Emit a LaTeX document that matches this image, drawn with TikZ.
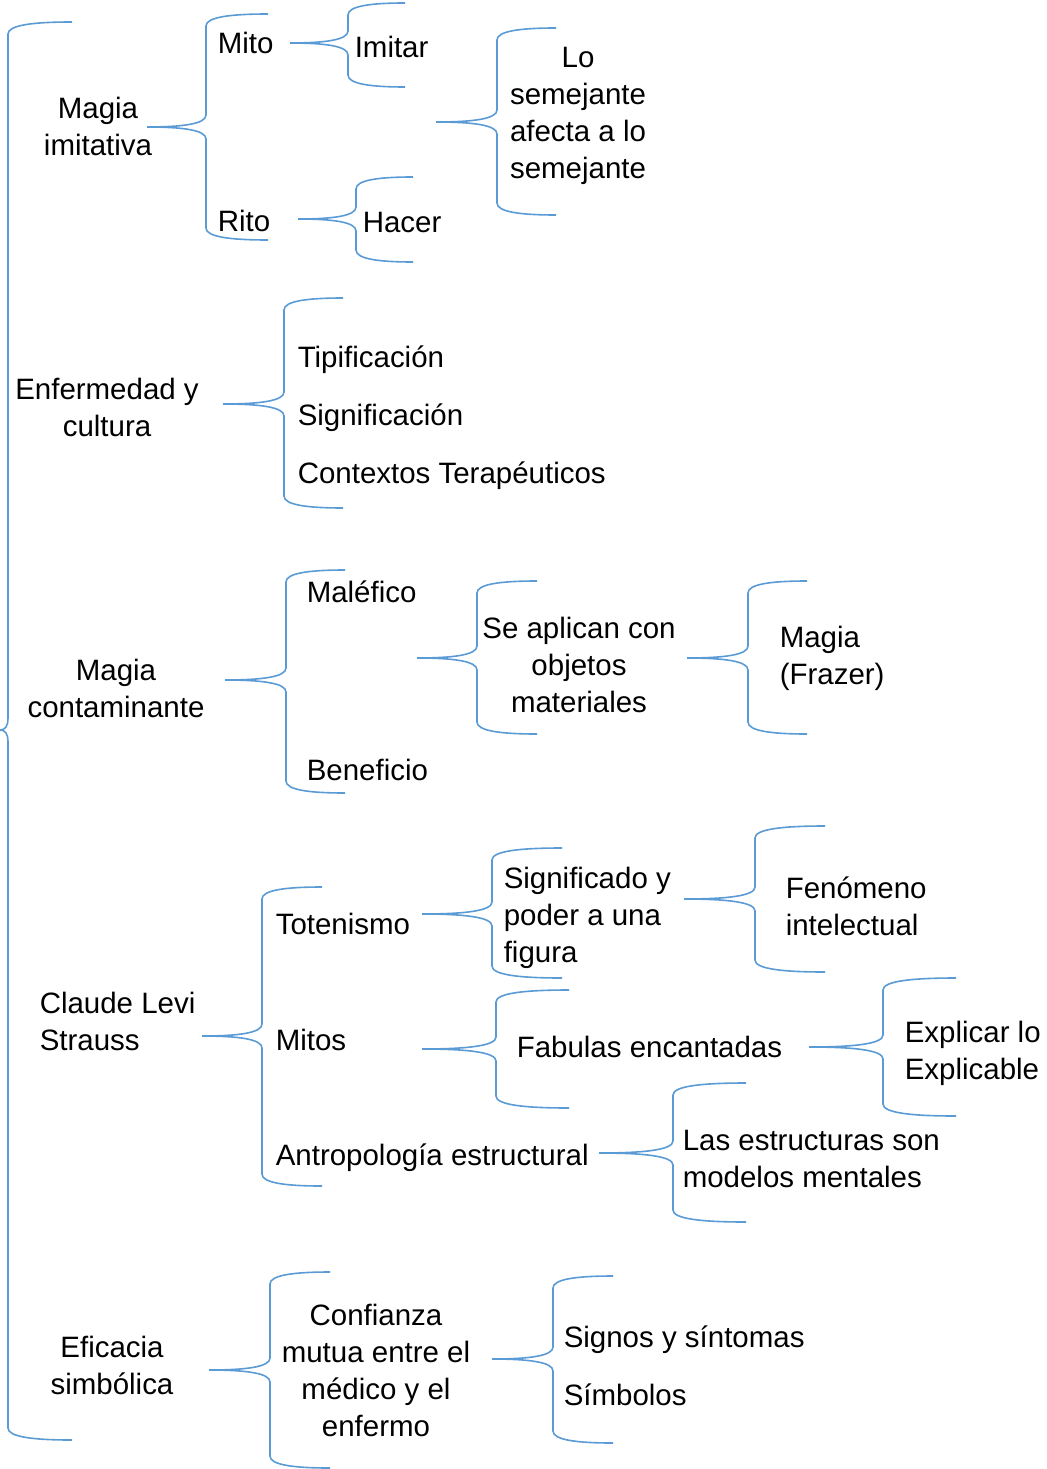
\documentclass[tikz,border=0pt]{standalone}
\usepackage{fontspec}
\setmainfont{Liberation Sans}
\definecolor{bracecol}{HTML}{5B9BD5}
\tikzset{
  brc/.style={draw=bracecol, line width=1.2pt},
  lbl/.style={inner sep=0pt, font=\fontsize{22.1}{27.75}\selectfont},
  lblc/.style={lbl, align=center, anchor=north},
  lbll/.style={lbl, align=left, anchor=north west},
  lbls/.style={lbl, anchor=base west}
}
% xtip, xvert, xend, ytop, ymid, ybot
\newcommand{\wbrace}[6]{%
  \draw[brc] (#3,#4) .. controls ({#2+0.4*(#3-#2)},#4) and (#2,{#4+3}) .. (#2,{#4+12})
    -- (#2,{#5-12}) .. controls (#2,{#5-3}) and ({#2-0.4*(#2-#1)},#5) .. (#1,#5)
    .. controls ({#2-0.4*(#2-#1)},#5) and (#2,{#5+3}) .. (#2,{#5+12})
    -- (#2,{#6-12}) .. controls (#2,{#6-3}) and ({#2+0.4*(#3-#2)},#6) .. (#3,#6);}
\begin{document}
\begin{tikzpicture}[x=0.75pt, y=-0.75pt]
\path[use as bounding box] (0,0) rectangle (1046,1469);

% braces
\wbrace{0}{8}{72}{22}{730}{1440}
\wbrace{147}{206}{268}{14}{127}{240}
\wbrace{290}{348}{405}{3}{43}{87}
\wbrace{298}{356}{413}{177}{219}{262}
\wbrace{436}{497}{556}{28}{122}{215}
\wbrace{223}{284}{343}{298}{404}{508}
\wbrace{225}{286}{345}{570}{680}{793}
\wbrace{417}{477}{537}{581}{658}{734}
\wbrace{687}{748}{807}{581}{658}{734}
\wbrace{202}{262}{322}{887}{1036}{1186}
\wbrace{422}{492}{562}{848}{914}{978}
\wbrace{684}{755}{825}{826}{899}{972}
\wbrace{422}{496}{569}{990}{1049}{1108}
\wbrace{809}{883}{956}{978}{1047}{1116}
\wbrace{599}{673}{746}{1083}{1153}{1222}
\wbrace{209}{270}{330}{1272}{1370}{1468}
\wbrace{492}{553}{613}{1276}{1359}{1443}

% section 1
\node[lblc] (mimit) at (98,96.6) {Magia\\imitativa};
\node[lbls] (mito) at (217.5,53.4) {Mito};
\node[lbls] (rito) at (217.5,231.4) {Rito};
\node[lbls] (imitar) at (354.5,57.4) {Imitar};
\node[lbls] (hacer) at (362.5,232.4) {Hacer};
\node[lblc] (lose) at (578,46.6) {Lo\\semejante\\afecta a lo\\semejante};

% section 2
\node[lblc] (enf) at (107,377.6) {Enfermedad y\\cultura};
\node[lbls] (tip) at (297.5,367.4) {Tipificación};
\node[lbls] (sig) at (297.5,425.4) {Significación};
\node[lbls] (ctx) at (297.5,483.4) {Contextos Terapéuticos};

% section 3
\node[lblc] (mcont) at (116,658.6) {Magia\\contaminante};
\node[lbls] (malef) at (306.5,602.4) {Maléfico};
\node[lbls] (benef) at (306.5,780.4) {Beneficio};
\node[lblc] (seapl) at (579,616.6) {Se aplican con\\objetos\\materiales};
\node[lbll] (frazer) at (779.5,625.6) {Magia\\(Frazer)};

% section 4
\node[lbll] (cls) at (39.5,991.6) {Claude Levi\\Strauss};
\node[lbls] (toten) at (275.5,934.4) {Totenismo};
\node[lbls] (mitos) at (275.5,1050.4) {Mitos};
\node[lbls] (antro) at (275.5,1165.4) {Antropología estructural};
\node[lbll] (signif) at (503.5,866.6) {Significado y\\poder a una\\figura};
\node[lbll] (fenom) at (785.5,876.6) {Fenómeno\\intelectual};
\node[lbls] (fabul) at (516.5,1057.4) {Fabulas encantadas};
\node[lbll] (expl) at (904.5,1020.6) {Explicar lo\\Explicable};
\node[lbll] (estr) at (682.5,1129.6) {Las estructuras son\\modelos mentales};

% section 5
\node[lblc] (efic) at (112,1335.6) {Eficacia\\simbólica};
\node[lblc] (conf) at (376,1303.6) {Confianza\\mutua entre el\\médico y el\\enfermo};
\node[lbls] (signos) at (563.5,1347.4) {Signos y síntomas};
\node[lbls] (simb) at (563.5,1405.4) {Símbolos};
\end{tikzpicture}
\end{document}
